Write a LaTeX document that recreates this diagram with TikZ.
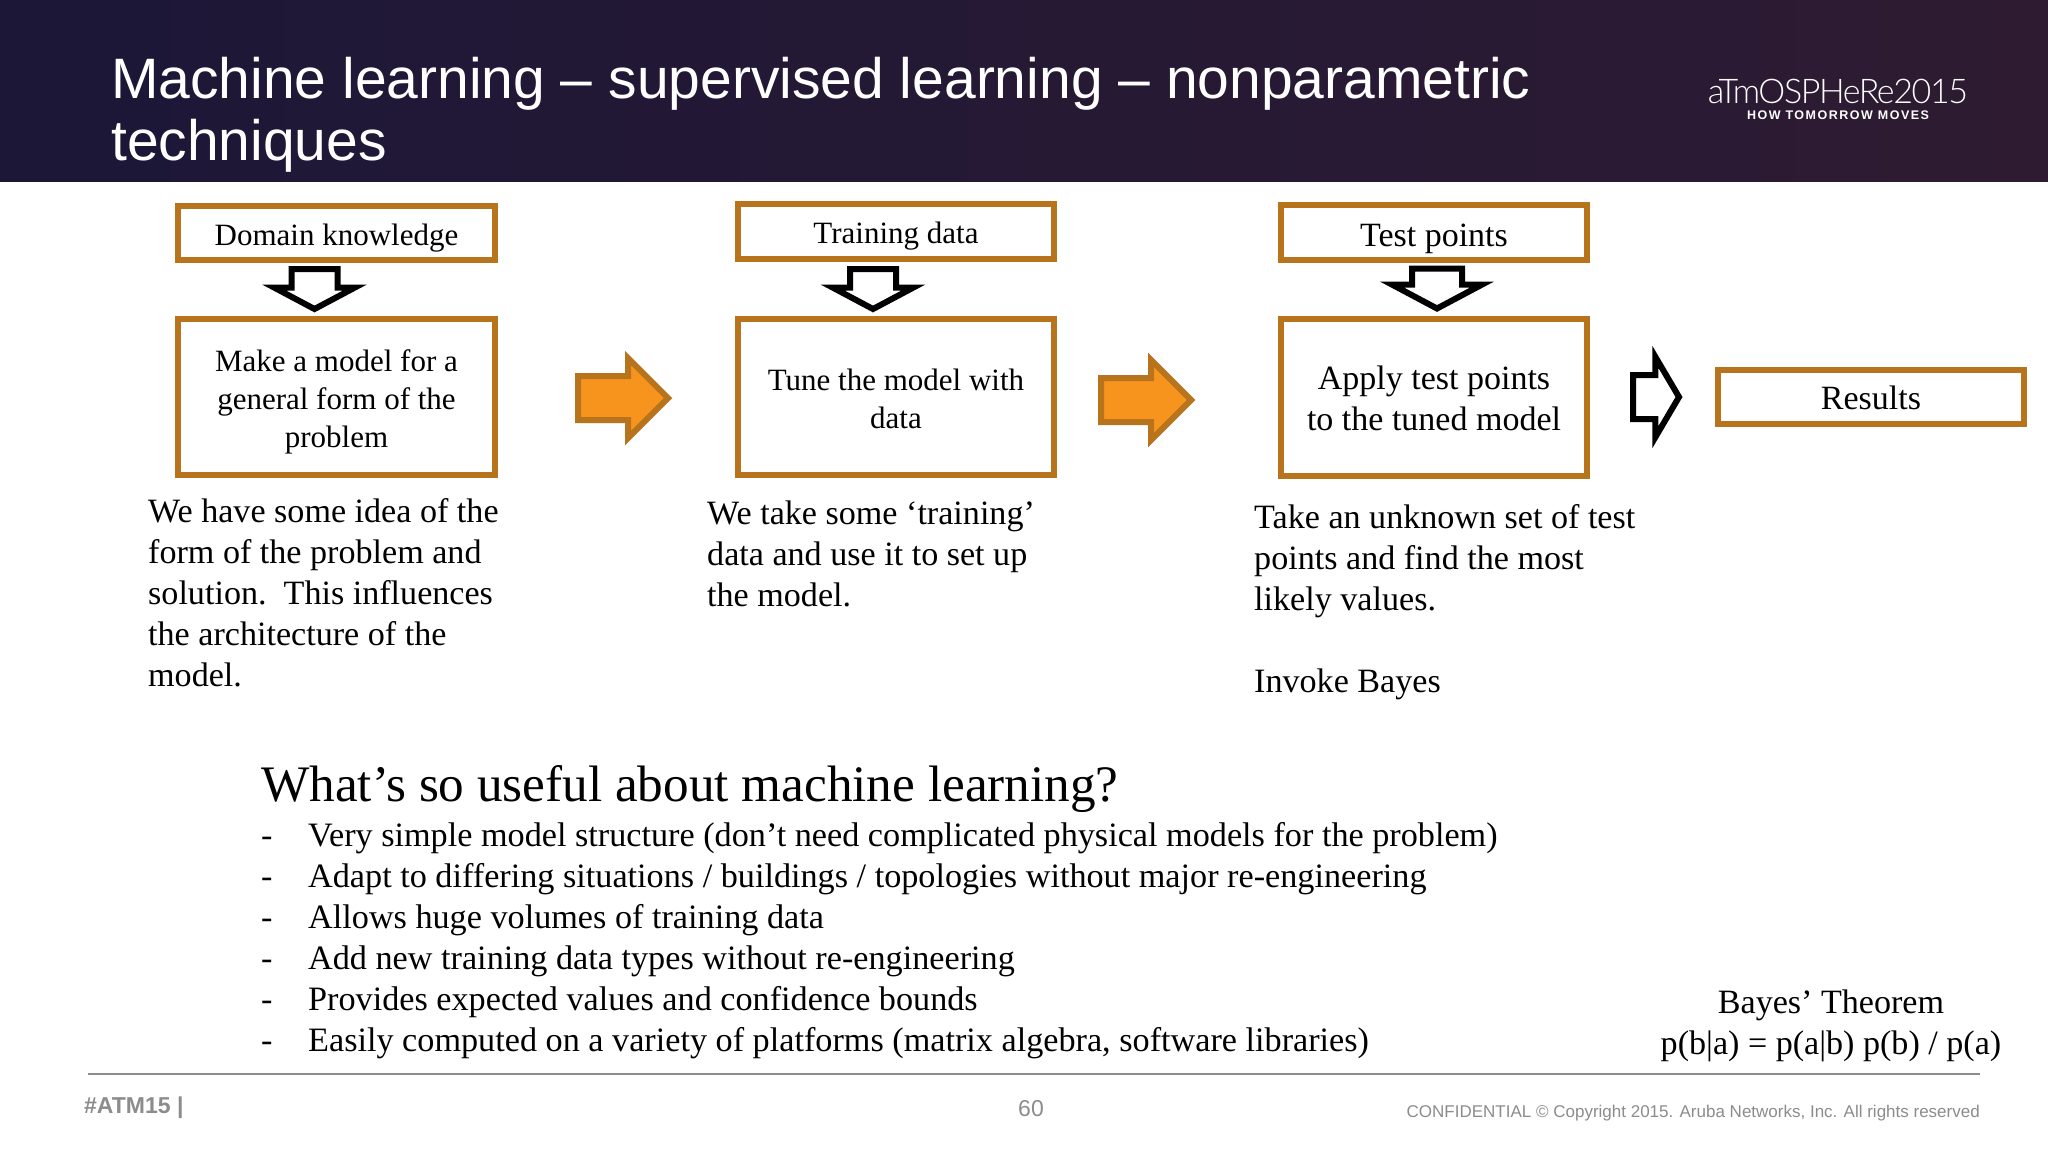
\documentclass[tikz,border=0pt]{standalone}
\usepackage{fontspec}
\setmainfont{Liberation Serif}
\newfontfamily\headfont{Liberation Sans}
\newfontfamily\logofont[LetterSpace=-4]{Lato Light}
\newfontfamily\tagfont[LetterSpace=12]{Liberation Sans}
\usetikzlibrary{positioning,shapes.arrows}
\definecolor{boxorange}{HTML}{B8741C}
\definecolor{arroworange}{HTML}{F7941E}
\definecolor{footgray}{HTML}{8C8C8C}
\definecolor{navy}{HTML}{1C1737}
\definecolor{plum}{HTML}{2A1A40}
\definecolor{wine}{HTML}{2E1B32}
\newcommand{\lift}[1]{\rule{0pt}{#1}}
\tikzset{
    block/.style={rectangle, draw=boxorange, line width=6pt, fill=white, inner sep=0pt,
           align=center, font=\fontsize{31}{38}\selectfont},
    para/.style={inner sep=0pt, align=left, font=\fontsize{34.1}{41}\selectfont},
    downarrow/.style={single arrow, shape border rotate=270, draw=black, line width=6pt, fill=white,
           minimum height=40pt, single arrow head extend=17pt, single arrow tip angle=124, inner xsep=20pt, inner ysep=0pt},
    orangearrow/.style={single arrow, draw=boxorange, line width=6pt, fill=arroworange,
           minimum height=90pt, single arrow head extend=18pt, single arrow tip angle=90, inner xsep=0pt, inner ysep=19pt}
}
\begin{document}
\begin{tikzpicture}
    \useasboundingbox (0pt,0pt) rectangle (2048pt,-1152pt);
    \fill [white] (0pt,0pt) rectangle (2048pt,-1152pt);
    \shade [left color=navy, middle color=plum, right color=wine] (0pt,0pt) rectangle (2048pt,-181pt);

    \node [text=white, inner sep=0pt, anchor=north west, align=left, font=\headfont\fontsize{57}{62}\selectfont] (title) at (111pt,-57pt)
        {Machine learning – supervised learning – nonparametric\\techniques};
    \node [text=white, inner sep=0pt, anchor=center, font=\logofont\fontsize{34}{36}\selectfont] (logo) at (1838pt,-91pt) {aTmOSPHeRe2015};
    \node [text=white, inner sep=0pt, below=7pt of logo, font=\tagfont\bfseries\fontsize{12.5}{14}\selectfont] (tagline) {HOW TOMORROW MOVES};

    % middle row
    \node [block, minimum width=317pt, minimum height=156pt] (Make) at (336.5pt,-397pt) {\lift{31pt}Make a model for a\\general form of the\\problem};
    \node [block, minimum width=316pt, minimum height=156pt, right=237pt of Make] (Tune) {\lift{26pt}Tune the model with\\data};
    \node [block, minimum width=306pt, minimum height=157pt, right=221pt of Tune, font=\fontsize{34}{41}\selectfont] (Apply) {\lift{26pt}Apply test points\\to the tuned model};
    \node [block, minimum width=306pt, minimum height=54pt, right=125pt of Apply, font=\fontsize{34}{41}\selectfont] (Results) {\lift{26pt}Results};

    % top row
    \node [block, minimum width=317pt, minimum height=54pt, above=53pt of Make] (Domain) {\lift{31pt}Domain knowledge};
    \node [block, minimum width=316pt, minimum height=55pt, above=54pt of Tune] (Training) {\lift{31pt}Training data};
    \node [block, minimum width=306pt, minimum height=55pt, above=53pt of Apply, font=\fontsize{34}{41}\selectfont] (Test) {\lift{36pt}Test points};

    % block arrows
    \node [downarrow, below=3pt of Domain, xshift=-22pt] (downa) {};
    \node [downarrow, below=4pt of Training, xshift=-23pt] (downb) {};
    \node [downarrow, below=3pt of Test, xshift=3pt, inner xsep=22pt, single arrow head extend=20pt] (downc) {};
    \node [orangearrow, right=77pt of Make, yshift=-1pt] (nexta) {};
    \node [orangearrow, right=41pt of Tune, yshift=-3pt] (nextb) {};
    \node [single arrow, draw=black, line width=6pt, fill=white, minimum height=46pt, inner xsep=0pt, inner ysep=19pt,
           single arrow head extend=18pt, single arrow tip angle=119, right=40pt of Apply] (nextc) {};

    % notes under the boxes
    \node [para, below right=20pt and -27pt of Make.south west] (notea)
        {We have some idea of the\\form of the problem and\\solution.\ \ This influences\\the architecture of the\\model.};
    \node [para, below right=23pt and -28pt of Tune.south west] (noteb)
        {We take some ‘training’\\data and use it to set up\\the model.};
    \node [para, below right=26pt and -24pt of Apply.south west] (notec)
        {Take an unknown set of test\\points and find the most\\likely values.\\[41pt]Invoke Bayes};

    \node [inner sep=0pt, anchor=north west, font=\fontsize{51.2}{56}\selectfont] (useful) at (261pt,-765pt) {What’s so useful about machine learning?};
    \node [para, below right=10pt and 0pt of useful.south west, font=\fontsize{34.2}{41}\selectfont] (uses)
        {\makebox[47pt][l]{-}Very simple model structure (don’t need complicated physical models for the problem)\\
         \makebox[47pt][l]{-}Adapt to differing situations / buildings / topologies without major re-engineering\\
         \makebox[47pt][l]{-}Allows huge volumes of training data\\
         \makebox[47pt][l]{-}Add new training data types without re-engineering\\
         \makebox[47pt][l]{-}Provides expected values and confidence bounds\\
         \makebox[47pt][l]{-}Easily computed on a variety of platforms (matrix algebra, software libraries)};
    \node [para, align=center, anchor=north] (bayes) at (1831pt,-990pt) {Bayes’ Theorem\\p(b|a) = p(a|b) p(b) / p(a)};

    % footer
    \coordinate (ruleleft) at (88pt,-1074pt);
    \coordinate (ruleright) at (1980pt,-1074pt);
    \draw [footgray, line width=2pt] (ruleleft) -- (ruleright);
    \node [text=footgray, inner sep=0pt, anchor=west, font=\headfont\bfseries\fontsize{23}{26}\selectfont] (tag) at (84pt,-1108pt) {\#ATM15 |};
    \node [text=footgray, inner sep=0pt, font=\headfont\fontsize{23}{26}\selectfont] (page) at (1031pt,-1109pt) {60};
    \node [text=footgray, inner sep=0pt, anchor=east, font=\headfont\fontsize{17}{22}\selectfont] (notice) at (1980pt,-1113pt) {CONFIDENTIAL © Copyright 2015. Aruba Networks, Inc. All rights reserved};
\end{tikzpicture}
\end{document}
